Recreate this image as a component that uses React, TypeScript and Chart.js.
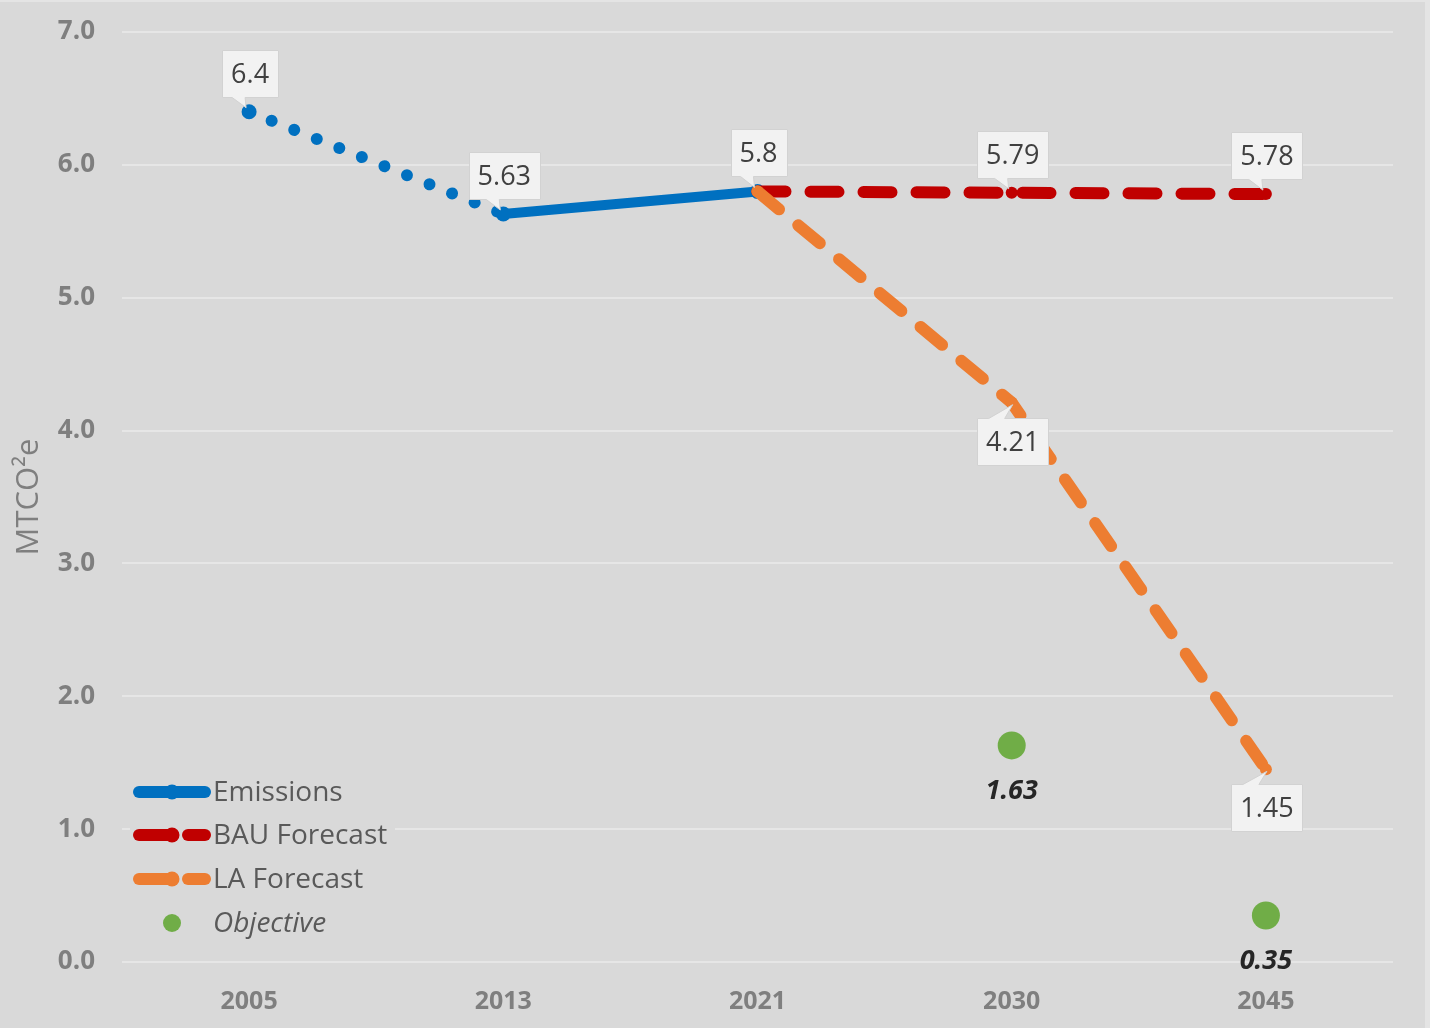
import React, { useEffect, useRef } from "react";
import { Chart, registerables } from "chart.js";

Chart.register(...registerables);

const years = ["2005", "2013", "2021", "2030", "2045"];
const emissions = [6.4, 5.63, 5.8, null, null];
const bauForecast = [null, null, 5.8, 5.79, 5.78];
const laForecast = [null, null, 5.8, 4.21, 1.45];
const objective = [null, null, null, 1.63, 0.35];
const yMin = 0;
const yMax = 7;
const yStep = 1;
const yTitle = "MTCO²e";

const legendNames = ["Emissions", "BAU Forecast", "LA Forecast", "Objective"];

// label placement per dataset point ("up" / "down" / null)
const emissionsLabelPos = ["up", "up", "up", null, null];
const bauLabelPos = [null, null, null, "up", "up"];
const laLabelPos = [null, null, null, "down", "down"];

const BLUE = "#0070c0";
const RED = "#c00000";
const ORANGE = "#ed7d31";
const GREEN = "#70ad47";
const FONT = '"Open Sans", "DejaVu Sans", sans-serif';

function drawCallout(ctx: CanvasRenderingContext2D, px: number, py: number, text: string, below: boolean) {
  ctx.save();
  ctx.font = `27px ${FONT}`;
  const w = Math.round(ctx.measureText(text).width + 18);
  const h = 47;
  const cx = px + 1;
  const left = Math.round(cx - w / 2) + 0.5;
  const right = left + w;
  const top = Math.round(below ? py + 15 : py - 15 - h) + 0.5;
  const bottom = top + h;
  ctx.beginPath();
  if (!below) {
    ctx.moveTo(left, top);
    ctx.lineTo(right, top);
    ctx.lineTo(right, bottom);
    ctx.lineTo(cx - 5, bottom);
    ctx.lineTo(px - 3, py - 4);
    ctx.lineTo(cx - 18, bottom);
    ctx.lineTo(left, bottom);
  } else {
    ctx.moveTo(left, top);
    ctx.lineTo(cx - 24, top);
    ctx.lineTo(px + 1, py + 2);
    ctx.lineTo(cx - 8, top);
    ctx.lineTo(right, top);
    ctx.lineTo(right, bottom);
    ctx.lineTo(left, bottom);
  }
  ctx.closePath();
  ctx.fillStyle = "#f2f2f2";
  ctx.fill();
  ctx.strokeStyle = "#d2d2d2";
  ctx.lineWidth = 1;
  ctx.stroke();
  ctx.fillStyle = "#404040";
  ctx.textAlign = "center";
  ctx.textBaseline = "middle";
  ctx.fillText(text, cx, top + h / 2 + 1);
  ctx.restore();
}

const bgPlugin = {
  id: "bg",
  beforeDraw(chart: any) {
    const ctx = chart.ctx;
    ctx.save();
    ctx.fillStyle = "#e4e4e4";
    ctx.fillRect(0, 0, chart.width, chart.height);
    ctx.fillStyle = "#d9d9d9";
    ctx.fillRect(0, 2, chart.width - 5, chart.height - 2);
    ctx.restore();
  },
};

const labelPlugin = {
  id: "callouts",
  afterDatasetsDraw(chart: any) {
    const ctx = chart.ctx;
    const specs: [number, (string | null)[]][] = [
      [0, emissionsLabelPos],
      [1, bauLabelPos],
      [2, laLabelPos],
    ];
    specs.forEach(([di, pos]) => {
      const meta = chart.getDatasetMeta(di);
      const data = chart.data.datasets[di].data;
      pos.forEach((p, i) => {
        if (!p || data[i] == null) return;
        const el = meta.data[i];
        drawCallout(ctx, el.x, el.y, String(data[i]), p === "down");
      });
    });
    // objective labels
    const meta = chart.getDatasetMeta(3);
    const data = chart.data.datasets[3].data;
    ctx.save();
    ctx.font = `italic bold 27px ${FONT}`;
    ctx.fillStyle = "#262626";
    ctx.textAlign = "center";
    ctx.textBaseline = "middle";
    data.forEach((v: number | null, i: number) => {
      if (v == null) return;
      const el = meta.data[i];
      ctx.fillText(v.toFixed(2), el.x, el.y + 46);
    });
    ctx.restore();
  },
};

const legendPlugin = {
  id: "customLegend",
  afterDraw(chart: any) {
    const ctx = chart.ctx;
    ctx.save();
    ctx.fillStyle = "#d9d9d9";
    ctx.fillRect(130, 770, 265, 172);
    const ys = [792, 835, 879, 923];
    const colors = [BLUE, RED, ORANGE, GREEN];
    ys.forEach((y, i) => {
      const c = colors[i];
      ctx.strokeStyle = c;
      ctx.fillStyle = c;
      ctx.lineCap = "round";
      ctx.lineWidth = 12;
      if (i === 0) {
        ctx.beginPath();
        ctx.moveTo(139, y);
        ctx.lineTo(205, y);
        ctx.stroke();
      } else if (i < 3) {
        ctx.beginPath();
        ctx.moveTo(139, y);
        ctx.lineTo(173, y);
        ctx.stroke();
        ctx.beginPath();
        ctx.moveTo(188, y);
        ctx.lineTo(205, y);
        ctx.stroke();
      }
      ctx.beginPath();
      ctx.arc(172, y, i === 3 ? 9 : 7.5, 0, Math.PI * 2);
      ctx.fill();
      ctx.fillStyle = "#595959";
      ctx.font = `${i === 3 ? "italic " : ""}28px ${FONT}`;
      ctx.textAlign = "left";
      ctx.textBaseline = "middle";
      ctx.fillText(legendNames[i], 213, y + 1);
    });
    ctx.restore();
  },
};

export default function App() {
  const ref = useRef<HTMLCanvasElement | null>(null);

  useEffect(() => {
    if (!ref.current) return;
    const chart = new Chart(ref.current, {
      type: "line",
      data: {
        labels: years,
        datasets: [
          {
            label: legendNames[0],
            data: emissions,
            borderColor: BLUE,
            backgroundColor: BLUE,
            borderWidth: 10,
            borderCapStyle: "round",
            pointRadius: 7.5,
            pointBorderWidth: 0,
            order: 2,
            segment: {
              borderDash: (c: any) => (c.p0DataIndex === 0 ? [0.01, 24.3] : undefined),
              borderWidth: (c: any) => (c.p0DataIndex === 0 ? 12 : 10),
            },
          },
          {
            label: legendNames[1],
            data: bauForecast,
            borderColor: RED,
            backgroundColor: RED,
            borderWidth: 12,
            borderDash: [28, 25],
            borderCapStyle: "round",
            pointRadius: 6,
            pointBorderWidth: 0,
            order: 1,
          },
          {
            label: legendNames[2],
            data: laForecast,
            borderColor: ORANGE,
            backgroundColor: ORANGE,
            borderWidth: 12,
            borderDash: [28, 25],
            borderCapStyle: "round",
            pointRadius: 6,
            pointBorderWidth: 0,
            order: 0,
          },
          {
            label: legendNames[3],
            data: objective,
            showLine: false,
            borderColor: GREEN,
            backgroundColor: GREEN,
            pointRadius: 14,
            pointBorderWidth: 0,
            order: 3,
          },
        ],
      } as any,
      options: {
        responsive: false,
        animation: false,
        layout: { padding: { top: 32, right: 37, left: 0, bottom: 0 } },
        plugins: {
          legend: { display: false },
          tooltip: { enabled: false },
          title: { display: false },
        },
        scales: {
          x: {
            type: "category",
            offset: true,
            grid: { display: false, drawTicks: false },
            border: { display: false },
            ticks: {
              color: "#7f7f7f",
              font: { family: FONT, size: 25, weight: "bold" },
              padding: 25,
            },
            afterFit: (s: any) => {
              s.height = 66;
              s.paddingLeft = 0;
              s.paddingRight = 0;
            },
          },
          y: {
            min: yMin,
            max: yMax,
            grid: { color: "#e6e6e6", lineWidth: 2, drawTicks: false },
            border: { display: false },
            ticks: {
              stepSize: yStep,
              color: "#7f7f7f",
              font: { family: FONT, size: 26, weight: "bold" },
              padding: 27,
              callback: (v: any) => Number(v).toFixed(1),
            },
            title: {
              display: true,
              text: yTitle,
              color: "#7f7f7f",
              font: { family: FONT, size: 31 },
              padding: { top: 11, bottom: 0 },
            },
            afterFit: (s: any) => {
              s.width = 122;
              s.paddingTop = 0;
              s.paddingBottom = 0;
            },
          },
        },
      } as any,
      plugins: [bgPlugin, labelPlugin, legendPlugin],
    });
    if ((document as any).fonts && (document as any).fonts.ready) {
      (document as any).fonts.ready.then(() => chart.update());
    }
    return () => chart.destroy();
  }, []);

  return (
    <div style={{ position: "absolute", left: 0, top: 0, width: 1430, height: 1028 }}>
      <canvas ref={ref} width={1430} height={1028} style={{ display: "block" }} />
    </div>
  );
}
